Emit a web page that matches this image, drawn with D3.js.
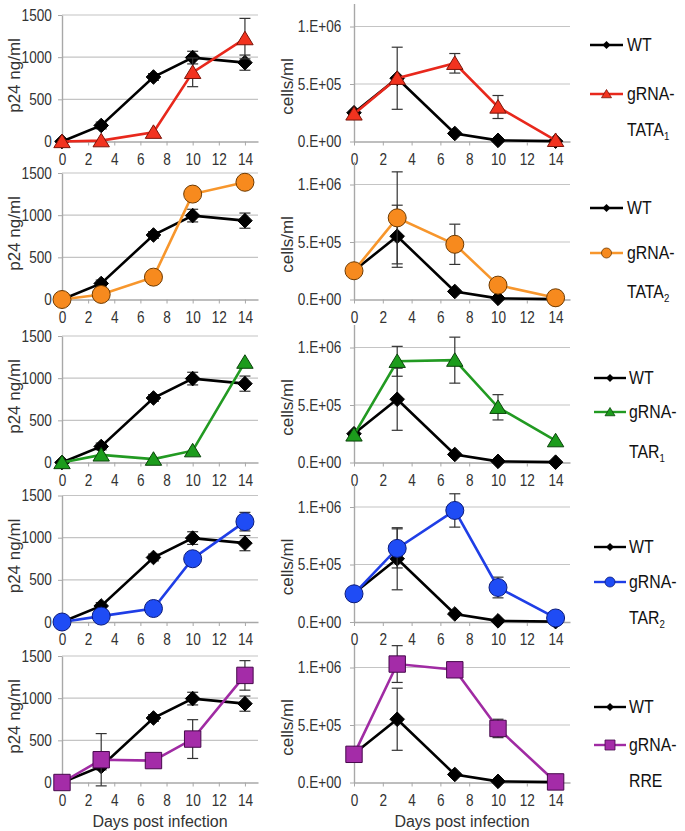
<!DOCTYPE html>
<html>
<head>
<meta charset="utf-8">
<script src="https://cdn.jsdelivr.net/npm/d3@7"></script>
<style>
  body { margin: 0; background: #fff; }
  svg { font-family: "Liberation Sans", Arial, sans-serif; }
</style>
</head>
<body>
<div id="chart"></div>
<script>
// days sampled
const days = [0, 3, 7, 10, 14];
const xTicks = [0, 2, 4, 6, 8, 10, 12, 14];
const p24Ticks = [0, 500, 1000, 1500];
const cellTicks = [0, 5e5, 1e6];
const cellTickLabels = ["0.E+00", "5.E+05", "1.E+06"];

// WT (same in every row)
const wtP24 = [0, 190, 765, 995, 935];
const wtP24Err = [0, 40, 40, 75, 90];
const wtCells = [2.5e5, 5.5e5, 0.7e5, 0.1e5, 0.03e5];
const wtCellsErr = [0, 2.7e5, 0.1e5, 0, 0];

// gRNA series, one per row
const tata1P24 = [0, 10, 110, 820, 1220];
const tata1P24Err = [0, 0, 0, 170, 240];
const tata1Cells = [2.4e5, 5.5e5, 6.8e5, 3.0e5, 0.1e5];
const tata1CellsErr = [0, 0, 0.85e5, 1.0e5, 0];

const tata2P24 = [0, 60, 265, 1250, 1390];
const tata2P24Err = [0, 0, 0, 0, 0];
const tata2Cells = [2.5e5, 7.1e5, 4.8e5, 1.25e5, 0.15e5];
const tata2CellsErr = [0, 4.0e5, 1.75e5, 0, 0];

const tar1P24 = [0, 90, 40, 140, 1190];
const tar1P24Err = [0, 0, 0, 0, 0];
const tar1Cells = [2.4e5, 8.8e5, 8.9e5, 4.8e5, 1.9e5];
const tar1CellsErr = [0, 1.3e5, 2.0e5, 1.1e5, 0];

const tar2P24 = [0, 70, 160, 750, 1190];
const tar2P24Err = [0, 0, 0, 0, 110];
const tar2Cells = [2.45e5, 6.4e5, 9.7e5, 3.0e5, 0.35e5];
const tar2CellsErr = [0, 1.7e5, 1.45e5, 0.9e5, 0];

const rreP24 = [0, 270, 260, 515, 1270];
const rreP24Err = [0, 310, 0, 230, 175];
const rreCells = [2.45e5, 1.03e6, 9.8e5, 4.7e5, 0.05e5];
const rreCellsErr = [0, 1.6e5, 0.3e5, 0.8e5, 0];

const gNames = ["TATA", "TATA", "TAR", "TAR", "RRE"];
const gSubs = ["1", "2", "1", "2", ""];
const gMarkers = ["triangle", "circle", "triangle", "circle", "square"];
const gLine = ["#e8281c", "#f7962c", "#229a22", "#1f3ee6", "#a02ba3"];
const gFill = ["#f2331f", "#f78a1e", "#1c9c1c", "#1f4cf5", "#a42ca8"];
const gEdge = ["#7a140a", "#6e3a00", "#0b440b", "#0a1a7a", "#47094c"];

const rows = [
  { p24: tata1P24, p24Err: tata1P24Err, cells: tata1Cells, cellsErr: tata1CellsErr },
  { p24: tata2P24, p24Err: tata2P24Err, cells: tata2Cells, cellsErr: tata2CellsErr },
  { p24: tar1P24, p24Err: tar1P24Err, cells: tar1Cells, cellsErr: tar1CellsErr },
  { p24: tar2P24, p24Err: tar2P24Err, cells: tar2Cells, cellsErr: tar2CellsErr },
  { p24: rreP24, p24Err: rreP24Err, cells: rreCells, cellsErr: rreCellsErr }
];

// layout
const width = 685, height = 831;
const rowBottom = [141.5, 299.5, 462.5, 622, 782.5];
const leftRange = [62, 258];
const rightRange = [354, 570];
const p24H = 126.5;    // px for 0..1500
const cellsH = 138;    // px for 0..1.2e6
const legendY = [[45, 94, 130], [208, 253, 292], [378, 412, 452], [547, 582, 618], [707, 745, 781]];
const legendX = [[590, 623, 627], [590, 623, 627], [594, 626, 629], [594, 626, 629], [594, 626, 629]];

const svg = d3.select("#chart").append("svg")
  .attr("width", width)
  .attr("height", height);

function markerPath(type, s) {
  if (type === "diamond") return `M0,${-s}L${s},0L0,${s}L${-s},0Z`;
  if (type === "triangle") return `M0,${-s * 0.9}L${s},${s * 0.75}L${-s},${s * 0.75}Z`;
  if (type === "square") return `M${-s},${-s}H${s}V${s}H${-s}Z`;
  return d3.arc()({ innerRadius: 0, outerRadius: s, startAngle: 0, endAngle: 2 * Math.PI });
}

function squeezeAxisText(g, sx) {
  g.selectAll(".tick text").attr("transform", `scale(${sx},1)`);
}

function drawSeries(g, x, y, vals, errs, color, fill, edge, marker, size) {
  const pts = days.map((d, i) => ({ d, v: vals[i], e: errs[i] }));
  const eb = g.append("g").attr("stroke", "#333").attr("stroke-width", 1.2);
  pts.filter(p => p.e > 0).forEach(p => {
    const cx = x(p.d);
    eb.append("line").attr("x1", cx).attr("x2", cx).attr("y1", y(p.v - p.e)).attr("y2", y(p.v + p.e));
    eb.append("line").attr("x1", cx - 5.5).attr("x2", cx + 5.5).attr("y1", y(p.v + p.e)).attr("y2", y(p.v + p.e));
    eb.append("line").attr("x1", cx - 5.5).attr("x2", cx + 5.5).attr("y1", y(p.v - p.e)).attr("y2", y(p.v - p.e));
  });
  g.append("path")
    .datum(pts)
    .attr("fill", "none")
    .attr("stroke", color)
    .attr("stroke-width", 2.6)
    .attr("d", d3.line().x(p => x(p.d)).y(p => y(p.v)));
  g.selectAll(null)
    .data(pts)
    .join("path")
    .attr("transform", p => `translate(${x(p.d)},${y(p.v)})`)
    .attr("d", markerPath(marker, size))
    .attr("fill", fill)
    .attr("stroke", edge)
    .attr("stroke-width", 1);
}

function panel(r, range, yDomain, yH, ticks, labels, vals, errs, gVals, gErrs, ri) {
  const bottom = rowBottom[r];
  const x = d3.scaleLinear().domain([0, 15]).range(range);
  const y = d3.scaleLinear().domain(yDomain).range([bottom, bottom - yH]);
  const g = svg.append("g");

  // gridlines
  g.selectAll(null)
    .data(ticks.filter(t => t > 0))
    .join("line")
    .attr("x1", range[0]).attr("x2", range[1])
    .attr("y1", d => y(d)).attr("y2", d => y(d))
    .attr("stroke", "#c4c4c4").attr("stroke-width", 1.2);

  const ya = g.append("g")
    .attr("transform", `translate(${range[0]},0)`)
    .call(d3.axisLeft(y).tickValues(ticks).tickSize(4).tickSizeOuter(0)
      .tickPadding(ri === 0 ? 8 : 11)
      .tickFormat((d, i) => labels[i]));
  const xa = g.append("g")
    .attr("transform", `translate(0,${bottom})`)
    .call(d3.axisBottom(x).tickValues(xTicks).tickSize(4).tickSizeOuter(0).tickPadding(8));
  [ya, xa].forEach(a => {
    a.select(".domain").attr("stroke", "#a8a8a8").attr("stroke-width", 1.4);
    a.selectAll(".tick line").attr("stroke", "#a8a8a8");
    a.selectAll(".tick text").attr("fill", "#333").style("font-size", "16px")
      .style("font-family", "'Liberation Sans', Arial, sans-serif");
    squeezeAxisText(a, 0.85);
  });

  drawSeries(g, x, y, vals, errs, "#000", "#000", "#000", "diamond", 7.3);
  drawSeries(g, x, y, gVals, gErrs, gLine[r], gFill[r], gEdge[r], gMarkers[r], gMarkers[r] === "circle" ? 9 : 8.2);

  // axis title
  const tx = ri === 0 ? 14 : 287;
  const ty = ri === 0 ? bottom - 66 : bottom - 55;
  g.append("text")
    .attr("transform", `translate(${tx},${ty}) rotate(-90)`)
    .attr("text-anchor", "middle")
    .attr("dy", "0.35em")
    .style("font-size", "17px")
    .attr("fill", "#333")
    .text(ri === 0 ? "p24 ng/ml" : "cells/ml");

  if (r === 4) {
    g.append("text")
      .attr("x", (range[0] + range[1]) / 2)
      .attr("y", 827)
      .attr("text-anchor", "middle")
      .style("font-size", "16px")
      .attr("fill", "#333")
      .text("Days post infection");
  }
}

rows.forEach((row, r) => {
  panel(r, leftRange, [0, 1500], p24H, p24Ticks, p24Ticks.map(String), wtP24, wtP24Err, row.p24, row.p24Err, 0);
  panel(r, rightRange, [0, 1.2e6], cellsH, cellTicks, cellTickLabels, wtCells, wtCellsErr, row.cells, row.cellsErr, 1);

  // legend
  const [x0, x1, tx] = legendX[r];
  const [yWT, yG, ySub] = legendY[r];
  const lg = svg.append("g");
  const mid = (x0 + x1) / 2;
  lg.append("line").attr("x1", x0).attr("x2", x1).attr("y1", yWT).attr("y2", yWT)
    .attr("stroke", "#000").attr("stroke-width", 2.4);
  lg.append("path").attr("transform", `translate(${mid},${yWT})`)
    .attr("d", markerPath("diamond", 4)).attr("fill", "#000");
  lg.append("line").attr("x1", x0).attr("x2", x1).attr("y1", yG).attr("y2", yG)
    .attr("stroke", gLine[r]).attr("stroke-width", 2.4);
  lg.append("path").attr("transform", `translate(${mid},${yG})`)
    .attr("d", markerPath(gMarkers[r], gMarkers[r] === "circle" ? 5 : 5))
    .attr("fill", gFill[r]).attr("stroke", gEdge[r]).attr("stroke-width", 0.8);

  const t = (y, s) => lg.append("text")
    .attr("transform", `translate(${tx},${y}) scale(0.88,1)`)
    .attr("dy", "0.36em")
    .style("font-size", "18px")
    .attr("fill", "#111")
    .text(s);
  t(yWT, "WT");
  t(yG, "gRNA-");
  const sub = t(ySub, gNames[r]);
  if (gSubs[r]) {
    sub.append("tspan").attr("dy", "0.3em").style("font-size", "11px").text(gSubs[r]);
  }
});
</script>
</body>
</html>
